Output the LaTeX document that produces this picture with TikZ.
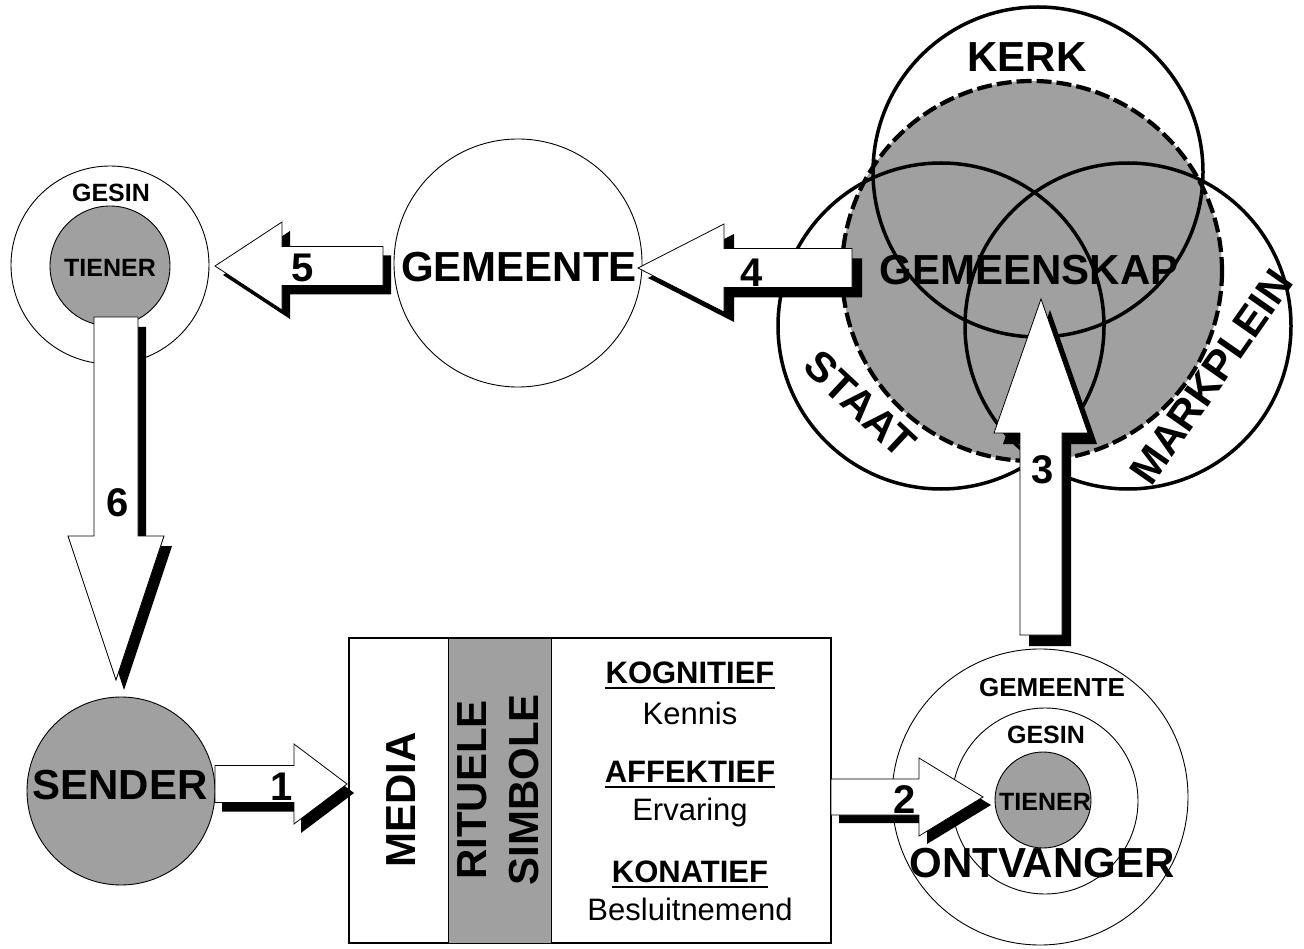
\documentclass[tikz,border=0pt]{standalone}
\usepackage{fontspec}
\setmainfont{Liberation Sans}
\usetikzlibrary{calc}
\definecolor{fillgray}{RGB}{160,160,160}
\tikzset{
  pics/barrow/.style n args={4}{code={
    \path[pic actions] (0,0) -- (-#2,#3) -- (-#2,#4) -- (-#1,#4) -- (-#1,-#4) -- (-#2,-#4) -- (-#2,-#3) -- cycle;
  }},
  arrowbody/.style={draw=black,fill=white,line width=0.8pt,line join=miter},
  arrowshadow/.style={fill=black},
  whitec/.style={circle,draw=black,line width=0.9pt,fill=white,inner sep=0pt},
  grayc/.style={circle,draw=black,line width=0.9pt,fill=fillgray,inner sep=0pt},
  vennc/.style={circle,draw=black,line width=3.5pt,inner sep=0pt},
  biglbl/.style={font=\fontsize{42}{50}\selectfont\bfseries,inner sep=0pt},
  smllbl/.style={font=\fontsize{25}{30}\selectfont\bfseries,inner sep=0pt},
  numlbl/.style={font=\fontsize{40}{44}\selectfont\bfseries,inner sep=0pt},
  hdrlbl/.style={font=\fontsize{31}{36}\selectfont\bfseries,inner sep=0pt,anchor=base},
  reglbl/.style={font=\fontsize{31}{36}\selectfont,inner sep=0pt,anchor=base},
}
\begin{document}
\begin{tikzpicture}[x=1pt,y=-1pt]
\useasboundingbox[fill=white] (0,0) rectangle (1304,949);

% ---- Venn diagram ----
\node[circle,inner sep=0pt,minimum size=380pt,fill=fillgray] (gemfill) at (1032,271) {};
\node[vennc,minimum size=330pt] (kerk) at (1038,172) {};
\node[vennc,minimum size=326pt] (staat) at (941,326) {};
\node[vennc,minimum size=326pt] (mark) at (1128,326) {};
\draw[draw=black,line width=4.2pt,dash pattern=on 15pt off 5pt] (gemfill.center) circle[radius=190];

% ---- left circles ----
\node[whitec,minimum size=198pt] (gesinL) at (110,265) {};
\node[grayc,minimum size=120pt] (tienerL) at (110,266) {};
\node[whitec,minimum size=248pt] (gemeente) at (518,263) {};
\node[grayc,minimum size=188pt] (sender) at (121,791) {};

% ---- ontvanger circles ----
\node[whitec,minimum size=296pt] (ontO) at (1040,797) {};
\node[whitec,minimum size=186pt] (ontM) at (1045,801) {};
\node[grayc,minimum size=96pt] (ontI) at (1043,800) {};

% ---- box ----
\node[draw=black,line width=1.1pt,fill=white,minimum width=482pt,minimum height=305pt,inner sep=0pt] (box) at (590,790.5) {};
\node[draw=black,line width=0.9pt,fill=fillgray,minimum width=103pt,minimum height=305pt,inner sep=0pt] (band) at (499.5,790.5) {};

% ---- arrow tips ----
\coordinate (t5) at (215,266);
\coordinate (t4) at (638,268);
\coordinate (t6) at (116,680);
\coordinate (t1) at (347,784);
\coordinate (t2) at (983,797);
\coordinate (t3) at (1041,299);

% ---- arrows (shadow, then body) ----
\pic[arrowshadow,rotate=180] at ($(t5)+(8,9)$) {barrow={168}{67}{44}{19.5}};
\pic[arrowbody,rotate=180] at (t5) {barrow={168}{67}{44}{19.5}};
\pic[arrowshadow,rotate=180] at ($(t4)+(10,10)$) {barrow={214}{86}{44}{19.5}};
\pic[arrowbody,rotate=180] at (t4) {barrow={214}{86}{44}{19.5}};
\pic[arrowshadow,rotate=-90] at ($(t6)+(8,10)$) {barrow={363}{144}{48}{22}};
\pic[arrowbody,rotate=-90] at (t6) {barrow={363}{144}{48}{22}};
\pic[arrowshadow] at ($(t1)+(7,9)$) {barrow={132}{53}{40}{18.5}};
\pic[arrowbody] at (t1) {barrow={132}{53}{40}{18.5}};
\pic[arrowshadow] at ($(t2)+(8,8)$) {barrow={152}{64}{39}{18}};
\pic[arrowbody] at (t2) {barrow={152}{64}{39}{18}};
\pic[arrowshadow,rotate=90] at ($(t3)+(9,11)$) {barrow={336}{134}{47}{21}};
\pic[arrowbody,rotate=90] at (t3) {barrow={336}{134}{47}{21}};

% ---- numbers ----
\node[numlbl] (n5) at (303,268) {5};
\node[numlbl] (n4) at (752,273) {4};
\node[numlbl] (n6) at (118,503) {6};
\node[numlbl] (n1) at (282,787) {1};
\node[numlbl] (n2) at (905,800) {2};
\node[numlbl] (n3) at (1043,470) {3};

% ---- Venn labels ----
\node[biglbl] (lkerk) at (1027,57) {KERK};
\node[biglbl] (lgem) at (1029,270) {GEMEENSKAP};
\node[biglbl,rotate=-43] (lstaat) at (860,404) {STAAT};
\node[biglbl,rotate=55] (lmark) at (1211,377) {MARKPLEIN};

% ---- other labels ----
\node[smllbl] (lgesinL) at (111,193) {GESIN};
\node[smllbl] (ltienerL) at (110,268) {TIENER};
\node[biglbl] (lgemeente) at (519,267) {GEMEENTE};
\node[biglbl] (lsender) at (120,785) {SENDER};
\node[font=\fontsize{26}{30}\selectfont\bfseries,inner sep=0pt] (lontG) at (1052,688) {GEMEENTE};
\node[smllbl] (lontS) at (1046,735) {GESIN};
\node[smllbl] (lontT) at (1045,802) {TIENER};
\node[biglbl] (lontv) at (1042,863) {ONTVANGER};

% ---- box labels ----
\node[biglbl,rotate=90] (lmedia) at (401,800) {MEDIA};
\node[biglbl,rotate=90,align=center,font=\fontsize{42}{52}\selectfont\bfseries] (lrit) at (498,790) {RITUELE\\SIMBOLE};
\node[hdrlbl] (kog) at (690,683) {KOGNITIEF};
\node[reglbl] (ken) at (690,724) {Kennis};
\node[hdrlbl] (aff) at (690,782) {AFFEKTIEF};
\node[reglbl] (erv) at (690,820) {Ervaring};
\node[hdrlbl] (kon) at (690,882) {KONATIEF};
\node[reglbl] (bes) at (690,920) {Besluitnemend};
\foreach \h in {kog,aff,kon}{
  \draw[line width=2.4pt] ([yshift=-5pt]\h.base west) -- ([yshift=-5pt]\h.base east);
}
\end{tikzpicture}
\end{document}
